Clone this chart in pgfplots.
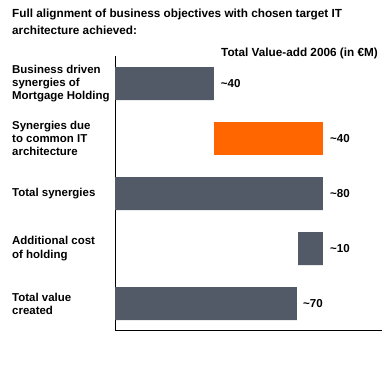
\documentclass[border=0pt]{standalone}
\usepackage{fontspec}
\setmainfont{Liberation Sans}
\usepackage{pgfplots}
\pgfplotsset{compat=1.18}
\definecolor{barGray}{RGB}{82,90,104}
\definecolor{barOrange}{RGB}{255,102,0}
\tikzset{vlab/.style={anchor=west, inner sep=0pt, font=\bfseries\fontsize{11.6}{13}\selectfont}}
\begin{document}
\begin{tikzpicture}
\path[use as bounding box] (0,0) rectangle (385bp,-387bp);
\node[anchor=base west,inner sep=0pt,font=\bfseries\fontsize{11.8}{13}\selectfont] at (12bp,-17bp) {Full alignment of business objectives with chosen target IT};
\node[anchor=base west,inner sep=0pt,font=\bfseries\fontsize{11.8}{13}\selectfont] at (12bp,-34bp) {architecture achieved:};
\node[anchor=base west,inner sep=0pt,font=\bfseries\fontsize{11.8}{13}\selectfont] at (221bp,-56bp) {Total Value-add 2006 (in €M)};
\begin{axis}[
  at={(115bp,-330bp)}, anchor=south west,
  width=267bp, height=274bp, scale only axis,
  xbar stacked,
  bar width=33bp,
  xmin=0, xmax=102.7,
  ymin=0.52, ymax=5.5,
  axis lines=left,
  axis line style={-, black, line width=0.8pt},
  xtick=\empty,
  ytick={1,2,3,4,5},
  yticklabels={{Total value\\created},{Additional cost\\of holding},{Total synergies},{Synergies due\\to common IT\\architecture},{Business driven\\synergies of\\Mortgage Holding}},
  major tick length=0pt,
  yticklabel style={font=\bfseries\fontsize{11.5}{13.2}\selectfont, align=left, anchor=west, inner sep=0pt, xshift=-103bp},
  clip=false,
]
\addplot[draw=none, fill=white, fill opacity=0] coordinates {(0,5) (38,4) (0,3) (70.4,2) (0,1)};
\addplot[draw=none, fill=barGray] coordinates {(38,5) (0,4) (80,3) (9.6,2) (70,1)};
\addplot[draw=none, fill=barOrange] coordinates {(0,5) (42,4) (0,3) (0,2) (0,1)};
\node[vlab, xshift=7bp] at (axis cs:38,5) {\textasciitilde 40};
\node[vlab, xshift=7bp] at (axis cs:80,4) {\textasciitilde 40};
\node[vlab, xshift=7bp] at (axis cs:80,3) {\textasciitilde 80};
\node[vlab, xshift=7bp] at (axis cs:80,2) {\textasciitilde 10};
\node[vlab, xshift=6bp] at (axis cs:70,1) {\textasciitilde 70};
\end{axis}
\end{tikzpicture}
\end{document}
